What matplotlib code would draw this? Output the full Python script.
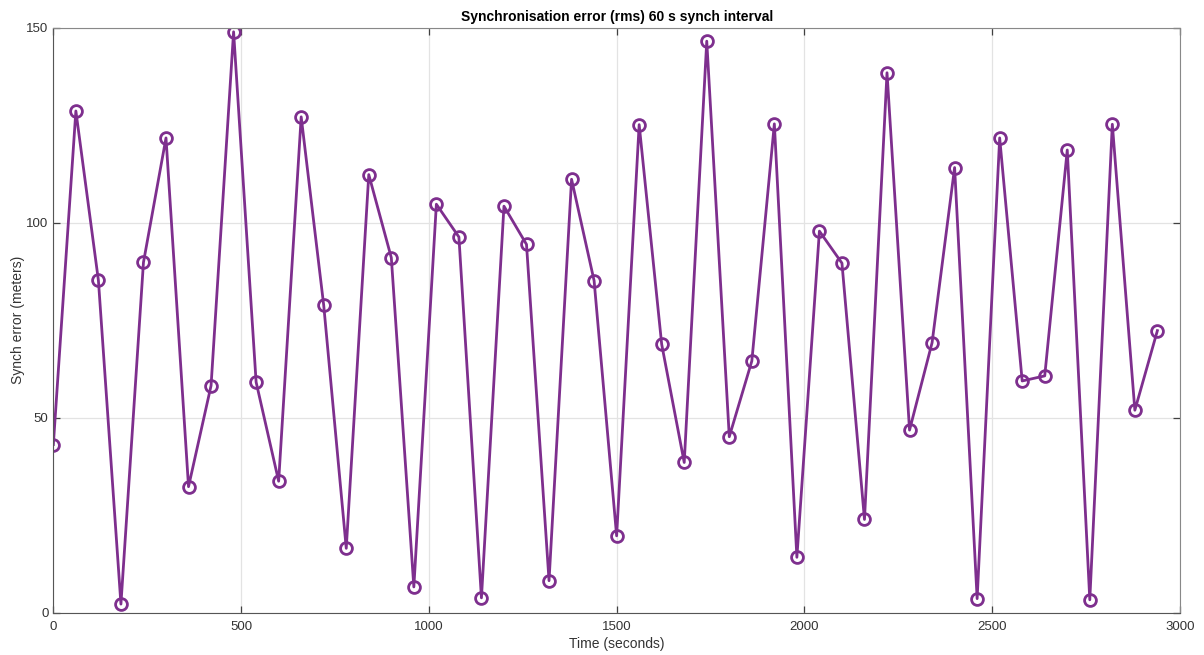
import numpy as np
import matplotlib
matplotlib.use("Agg")
import matplotlib.pyplot as plt

plt.rcParams['font.family'] = ['Liberation Sans', 'DejaVu Sans']

# synch error sampled every 60 s
time_s = np.arange(0, 3000, 60)
synch_err = [43.1, 128.6, 85.2, 2.2, 89.8, 121.7, 32.3, 58.2, 148.9, 59.1,
             33.7, 127.1, 78.8, 16.5, 112.3, 91.0, 6.6, 104.7, 96.3, 3.8,
             104.2, 94.4, 8.2, 111.1, 85.1, 19.7, 125.1, 68.8, 38.5, 146.5,
             45.1, 64.5, 125.3, 14.2, 97.8, 89.6, 23.9, 138.4, 46.8, 69.2,
             114.1, 3.6, 121.7, 59.4, 60.7, 118.6, 3.3, 125.2, 51.9, 72.3]

purple = '#7E2F8E'

fig = plt.figure(figsize=(12.04, 6.55), dpi=100)
ax = fig.add_axes([0.0443, 0.0646, 0.9357, 0.8934])

ax.plot(time_s, synch_err, '-o', color=purple, lw=2.0, ms=8.5,
        mfc='none', mew=2.0)

ax.set_xlim(0, 3000)
ax.set_ylim(0, 150)
ax.set_xticks([0, 500, 1000, 1500, 2000, 2500, 3000])
ax.set_yticks([0, 50, 100, 150])
ax.grid(True, color='#e3e3e3', lw=0.9)
ax.set_axisbelow(True)
ax.tick_params(direction='in', length=5, width=0.9, colors='#404040',
               labelsize=9.5, top=True, right=True, labelcolor='#333333')
ax.tick_params(axis='x', pad=6)
for side in ['left', 'bottom']:
    ax.spines[side].set_color('#555555')
for side in ['top', 'right']:
    ax.spines[side].set_color('#888888')

ax.set_xlabel('Time (seconds)', fontsize=10, color='#333333', labelpad=3)
ax.set_ylabel('Synch error (meters)', fontsize=10, color='#333333', labelpad=1)
ax.set_title('Synchronisation error (rms) 60 s synch interval',
             fontsize=10, fontweight='bold', pad=5)

fig.savefig('out.png', dpi=100)
